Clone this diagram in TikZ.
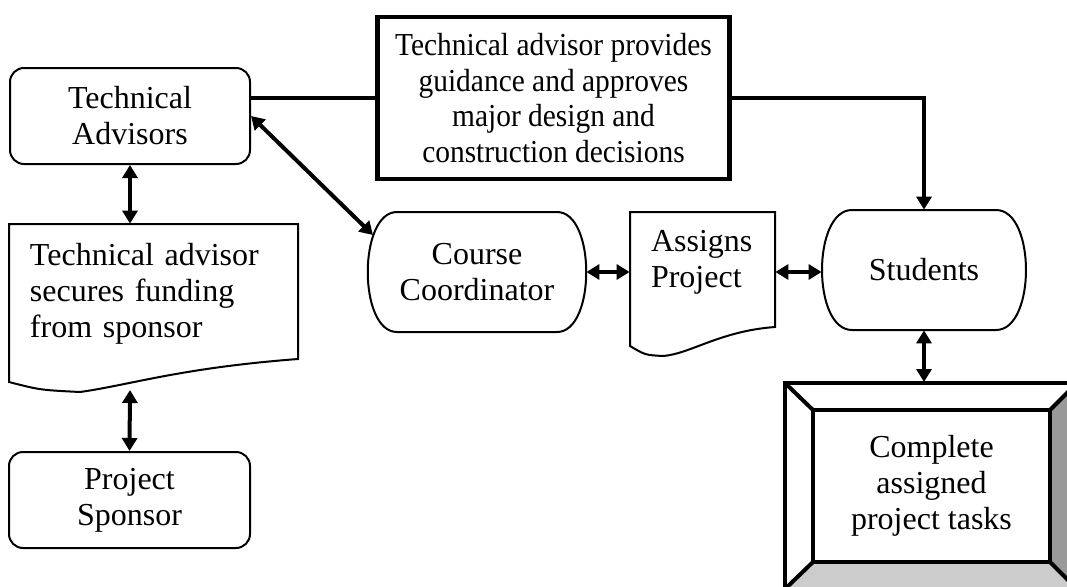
\documentclass[tikz,border=0pt]{standalone}
\usepackage{fontspec}
\setmainfont{Liberation Serif}
\newfontfamily\narrowserif[FakeStretch=0.92]{Liberation Serif}
\usetikzlibrary{arrows.meta,positioning}

\tikzset{
  every node/.style={font=\fontsize{16}{18}\selectfont},
  outline/.style={draw=black, line width=1pt},
  advbox/.style={outline, rounded corners=7pt, minimum width=120pt,
                 minimum height=48pt, align=center},
  doctext/.style={inner xsep=10.5pt, align=left},
  link/.style={line width=2pt},
  dbl/.style={link, <->},
}

\begin{document}
\begin{tikzpicture}[x=0.5pt,y=0.5pt,>={Triangle[length=6.5pt,width=7.5pt]}]
\useasboundingbox (0,0) rectangle (1067,586);

% rounded boxes on the left
\node[advbox] (ta) at (130,470) {Technical\\Advisors};
\node[advbox, minimum width=120.5pt] (spons) at (129.5,86) {Project\\Sponsor};

% document shapes
\draw[outline] (9,362) -- (298,362) -- (298,227)
    .. controls (180,218) and (130,201) .. (80,194)
    .. controls (40,196) .. (9,204) -- cycle;
\node[doctext, text width=123.5pt, minimum height=69.5pt] (doc1) at (153.5,292.5)
    {Technical advisor\\secures funding\\from sponsor};
\coordinate (doc1b) at (130,196);

\draw[outline] (630,374) -- (775,374) -- (775,259)
    .. controls (720,255) and (690,232) .. (663,230)
    .. controls (645,231) .. (630,240) -- cycle;
\node[doctext, text width=51.5pt] (asg) at (702.5,323.5) {Assigns\\Project};

% guidance box
\node[draw, line width=2.25pt, minimum width=176pt, minimum height=81pt,
      align=center, font=\narrowserif\fontsize{16}{17.75}\selectfont] (guide) at (553.5,488)
    {Technical advisor provides\\guidance and approves\\major design and\\construction decisions};

% rounded process shapes
\draw[outline] (397,374) -- (557,374) .. controls (596,374) and (596,254) .. (557,254)
    -- (397,254) .. controls (358,254) and (358,374) .. (397,374) -- cycle;
\node[minimum width=109pt, minimum height=60pt, align=center] (cc) at (477,314)
    {Course\\Coordinator};
\coordinate (ccin) at (373,351);

\draw[outline] (852,376) -- (996,376) .. controls (1036,376) and (1036,256) .. (996,256)
    -- (852,256) .. controls (812,256) and (812,376) .. (852,376) -- cycle;
\node[minimum width=102pt, minimum height=60pt] (stud) at (924,316) {Students};

% bevelled task box
\begin{scope}
\clip (0,0) rectangle (1067,586);
\fill[black!40] (1050,176) -- (1077,203) -- (1077,-3) -- (1050,24) -- cycle;
\fill[black!20] (813,24) -- (1050,24) -- (1077,-3) -- (785,-3) -- cycle;
\draw[line width=2pt] (785,-3) rectangle (1077,203);
\draw[line width=2pt] (785,203) -- (813,176) (1077,203) -- (1050,176)
    (785,-3) -- (813,24) (1077,-3) -- (1050,24);
\end{scope}
\node[draw, line width=2pt, fill=white, minimum width=118.5pt, minimum height=76pt,
      align=center] (task) at (931.5,100) {Complete\\assigned\\project tasks};
\coordinate (tasktop) at (924,204);

% connectors
\draw[dbl] (ta.south) -- (ta.south |- doc1.north);
\draw[dbl] (doc1b) -- (spons.north);
\draw[dbl] (ta.east) -- (ccin);
\draw[link] (guide.west -| ta.east) -- (guide.west);
\draw[link, ->] (guide.east) -- (guide.east -| stud.north) -- (stud.north);
\draw[dbl] (cc.east) -- (cc.east -| asg.west);
\draw[dbl] (asg.east |- cc.east) -- (stud.west |- cc.east);
\draw[dbl] (stud.south) -- (tasktop);
\end{tikzpicture}
\end{document}
